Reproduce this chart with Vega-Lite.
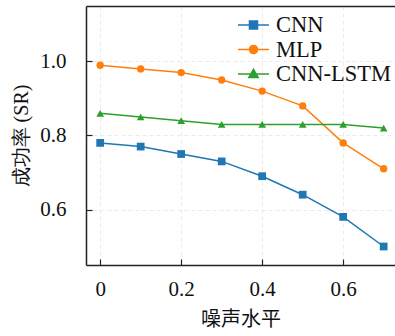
{
  "$schema": "https://vega.github.io/schema/vega-lite/v6.json",
  "autosize": {"type": "none"},
  "width": 309,
  "height": 259,
  "padding": {"left": 86, "top": 6, "right": 0, "bottom": 71},
  "background": "white",
  "data": {
    "values": [
      {"noise": 0.0, "model": "CNN", "sr": 0.78},
      {"noise": 0.1, "model": "CNN", "sr": 0.77},
      {"noise": 0.2, "model": "CNN", "sr": 0.75},
      {"noise": 0.3, "model": "CNN", "sr": 0.73},
      {"noise": 0.4, "model": "CNN", "sr": 0.69},
      {"noise": 0.5, "model": "CNN", "sr": 0.64},
      {"noise": 0.6, "model": "CNN", "sr": 0.58},
      {"noise": 0.7, "model": "CNN", "sr": 0.50},
      {"noise": 0.0, "model": "MLP", "sr": 0.99},
      {"noise": 0.1, "model": "MLP", "sr": 0.98},
      {"noise": 0.2, "model": "MLP", "sr": 0.97},
      {"noise": 0.3, "model": "MLP", "sr": 0.95},
      {"noise": 0.4, "model": "MLP", "sr": 0.92},
      {"noise": 0.5, "model": "MLP", "sr": 0.88},
      {"noise": 0.6, "model": "MLP", "sr": 0.78},
      {"noise": 0.7, "model": "MLP", "sr": 0.71},
      {"noise": 0.0, "model": "CNN-LSTM", "sr": 0.86},
      {"noise": 0.1, "model": "CNN-LSTM", "sr": 0.85},
      {"noise": 0.2, "model": "CNN-LSTM", "sr": 0.84},
      {"noise": 0.3, "model": "CNN-LSTM", "sr": 0.83},
      {"noise": 0.4, "model": "CNN-LSTM", "sr": 0.83},
      {"noise": 0.5, "model": "CNN-LSTM", "sr": 0.83},
      {"noise": 0.6, "model": "CNN-LSTM", "sr": 0.83},
      {"noise": 0.7, "model": "CNN-LSTM", "sr": 0.82}
    ]
  },
  "layer": [
    {
      "mark": {"type": "line", "strokeWidth": 1.5},
      "encoding": {
        "x": {
          "field": "noise", "type": "quantitative",
          "scale": {"domain": [-0.035, 0.728], "nice": false, "zero": false},
          "axis": {
            "orient": "bottom",
            "values": [0, 0.2, 0.4, 0.6],
            "labelExpr": "datum.value == 0 ? '0' : format(datum.value, '.1f')",
            "labelPadding": 19,
            "title": "噪声水平",
            "titleFont": "Noto Sans CJK SC",
            "titlePadding": 10
          }
        },
        "y": {
          "field": "sr", "type": "quantitative",
          "scale": {"domain": [0.45, 1.15], "nice": false, "zero": false},
          "axis": {
            "values": [0.6, 0.8, 1.0],
            "format": ".1f",
            "labelPadding": 26,
            "labelFont": "Liberation Serif",
            "title": "成功率 (SR)",
            "titleFont": "Liberation Serif",
            "titlePadding": 8
          }
        },
        "color": {
          "field": "model", "type": "nominal",
          "scale": {"domain": ["CNN", "MLP", "CNN-LSTM"], "range": ["#1f77b4", "#ff7f0e", "#2ca02c"]},
          "legend": {
            "title": null,
            "orient": "none",
            "legendX": 151,
            "legendY": 8.5,
            "padding": 0,
            "rowPadding": 1.5,
            "clipHeight": 21,
            "labelOffset": 6,
            "labelFont": "Liberation Serif",
            "labelFontSize": 22.5,
            "labelColor": "#111",
            "symbolSize": 961,
            "encode": {
              "symbols": {
                "update": {
                  "shape": {"signal": "datum.value == 'CNN' ? 'M-1,0H1M-0.26,-0.26H0.26V0.26H-0.26Z' : datum.value == 'MLP' ? 'M-1,0H1M0.26,0A0.26,0.26,0,1,1,-0.26,0A0.26,0.26,0,1,1,0.26,0Z' : 'M-1,0H1M0,-0.3L0.3,0.22L-0.3,0.22Z'"},
                  "fill": {"scale": "color", "field": "value"},
                  "stroke": {"scale": "color", "field": "value"},
                  "strokeWidth": {"value": 1.5},
                  "opacity": {"value": 1},
                  "fillOpacity": {"value": 1}
                }
              }
            }
          }
        }
      }
    },
    {
      "transform": [{"filter": "datum.model == 'CNN'"}],
      "mark": {"type": "point", "filled": true, "opacity": 1, "size": 60, "shape": "square"},
      "encoding": {
        "x": {
          "field": "noise", "type": "quantitative",
          "axis": {"orient": "top", "labels": false, "ticks": false, "grid": false, "title": null, "domain": true}
        },
        "y": {"field": "sr", "type": "quantitative"},
        "color": {"field": "model", "type": "nominal"}
      }
    },
    {
      "transform": [{"filter": "datum.model == 'MLP'"}],
      "mark": {"type": "point", "filled": true, "opacity": 1, "size": 55, "shape": "circle"},
      "encoding": {
        "x": {"field": "noise", "type": "quantitative", "axis": null},
        "y": {"field": "sr", "type": "quantitative"},
        "color": {"field": "model", "type": "nominal"}
      }
    },
    {
      "transform": [{"filter": "datum.model == 'CNN-LSTM'"}],
      "mark": {"type": "point", "filled": true, "opacity": 1, "size": 60, "shape": "triangle-up"},
      "encoding": {
        "x": {"field": "noise", "type": "quantitative", "axis": null},
        "y": {"field": "sr", "type": "quantitative"},
        "color": {"field": "model", "type": "nominal"}
      }
    }
  ],
  "resolve": {"axis": {"x": "independent"}},
  "config": {
    "font": "Liberation Serif",
    "view": {"stroke": null},
    "style": {
      "guide-label": {"font": "Liberation Serif", "fontSize": 21, "fill": "#111"},
      "guide-title": {"font": "Liberation Serif", "fontSize": 20, "fontWeight": "normal", "fill": "#111"}
    },
    "axisY": {"labelPadding": 26, "titlePadding": 8, "labelFont": "Liberation Serif", "titleFont": "Liberation Serif"},
    "axis": {
      "domainColor": "#222",
      "domainWidth": 1.5,
      "tickColor": "#222",
      "tickWidth": 1.2,
      "tickSize": -6,
      "labelFont": "Liberation Serif",
      "labelFontSize": 21,
      "labelColor": "#111",
      "titleFont": "Liberation Serif",
      "titleFontSize": 20,
      "titleFontWeight": "normal",
      "titleColor": "#111",
      "grid": true,
      "gridColor": "#e6e6e6",
      "gridDash": [4, 3],
      "gridWidth": 0.8
    }
  }
}
